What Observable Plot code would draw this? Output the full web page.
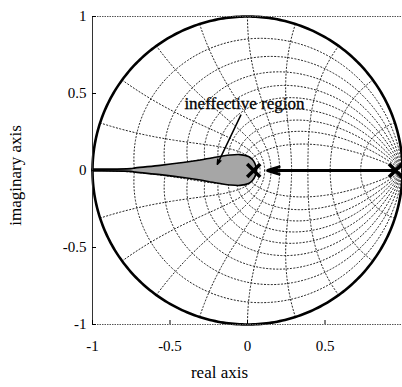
<!DOCTYPE html>
<html><head><meta charset="utf-8">
<script src="https://cdn.jsdelivr.net/npm/d3@7"></script>
<script src="https://cdn.jsdelivr.net/npm/@observablehq/plot@0.6"></script>
<style>body{margin:0;background:#fff}</style>
</head><body><div id="chart"></div>
<script>
// axis settings
const xDomain = [-1, 1];
const yDomain = [-1, 1];
const xTicks = [-1, -0.5, 0, 0.5];
const yTicks = [-1, -0.5, 0, 0.5, 1];

// z-plane grid (zgrid) parameters
const dampingRatios = [0.1, 0.2, 0.3, 0.4, 0.5, 0.6, 0.7, 0.8, 0.9];
const naturalFreqsOverPi = [0.1, 0.2, 0.3, 0.4, 0.5, 0.6, 0.7, 0.8, 0.9, 1.0];
const circleRadius = 1;

// ineffective region outline: x and half-width
const regionX =         [-1,    -0.75, -0.72, -0.56, -0.40, -0.30, -0.22, -0.11, -0.045, 0.01,  0.035, 0.05,  0.058, 0.062];
const regionHalfWidth = [0.006, 0.009, 0.014, 0.03,  0.05,  0.065, 0.08,  0.097, 0.1,    0.088, 0.068, 0.045, 0.02,  0];

// poles and their movement
const poleX = [0.04, 0.955];
const poleY = [0, 0];
const moveFrom = [0.955, 0];
const moveTo = [0.13, 0];

// annotation
const annotationText = "ineffective region";
const annotationPos = [-0.02, 0.435];
const annotationFrom = [-0.043, 0.36];
const annotationTo = [-0.195, 0.04];

const xLabel = "real axis";
const yLabel = "imaginary axis";

// build grid curves
const grid = [];
for (const zeta of dampingRatios) {
  for (const s of [1, -1]) {
    for (let i = 0; i <= 240; i++) {
      const th = Math.PI * i / 240;
      const r = Math.exp(-zeta * th / Math.sqrt(1 - zeta * zeta));
      grid.push({id: `z${zeta}_${s}`, x: r * Math.cos(th), y: s * r * Math.sin(th)});
    }
  }
}
for (const k of naturalFreqsOverPi) {
  const wn = k * Math.PI;
  for (const s of [1, -1]) {
    for (let i = 0; i <= 120; i++) {
      const phi = Math.PI / 2 + (Math.PI / 2) * i / 120;
      const re = wn * Math.cos(phi), im = wn * Math.sin(phi);
      const r = Math.exp(re);
      grid.push({id: `w${k}_${s}`, x: r * Math.cos(im), y: s * r * Math.sin(im)});
    }
  }
}
const circle = d3.range(0, 361).map(a => ({x: circleRadius * Math.cos(a * Math.PI / 180), y: circleRadius * Math.sin(a * Math.PI / 180)}));
const region = regionX.map((x, i) => ({x, lo: -regionHalfWidth[i], hi: regionHalfWidth[i]}));
const poles = poleX.map((x, i) => ({x, y: poleY[i]}));

const chart = Plot.plot({
  width: 402,
  height: 387,
  marginLeft: 92,
  marginRight: 0,
  marginTop: 16,
  marginBottom: 63,
  style: {fontFamily: "'Liberation Serif', serif", fontSize: "14px", background: "#fff", color: "#000"},
  x: {domain: xDomain},
  y: {domain: yDomain},
  marks: [
    Plot.line(grid, {x: "x", y: "y", z: "id", stroke: "#222", strokeWidth: 1, strokeDasharray: "1.2,2.2"}),
    Plot.areaY(region, {x: "x", y1: "lo", y2: "hi", fill: "#a6a6a6", stroke: "#000", strokeWidth: 1.6, curve: "catmull-rom"}),
    Plot.line(circle, {x: "x", y: "y", stroke: "#000", strokeWidth: 2.6}),
    Plot.arrow([{}], {x1: moveFrom[0], y1: moveFrom[1], x2: moveTo[0], y2: moveTo[1], stroke: "#000", strokeWidth: 3, headLength: 6, headAngle: 35}),
    Plot.dot(poles, {x: "x", y: "y", symbol: "times", r: 6, stroke: "#000", strokeWidth: 3.5}),
    Plot.arrow([{}], {x1: annotationFrom[0], y1: annotationFrom[1], x2: annotationTo[0], y2: annotationTo[1], stroke: "#000", strokeWidth: 1.5, headLength: 5, headAngle: 40}),
    Plot.text([annotationText], {x: annotationPos[0], y: annotationPos[1], text: d => d, fontSize: 17, fill: "#000", textAnchor: "middle", stroke: "#000", strokeWidth: 0.3}),
    Plot.ruleY(yDomain, {stroke: "#555", strokeWidth: 1, strokeDasharray: "1.5,1"}),
    Plot.ruleX([xDomain[0]], {stroke: "#333", strokeWidth: 1}),
    Plot.axisX({ticks: xTicks, tickSize: -4, tickPadding: 20, label: null, tickFormat: d => String(d), fontSize: 15}),
    Plot.axisY({ticks: yTicks, tickSize: -4, tickPadding: 10, label: null, tickFormat: d => String(d), fontSize: 15}),
    Plot.text([xLabel], {frameAnchor: "bottom", text: d => d, dx: -28, dy: 53, fontSize: 17, fill: "#000", textAnchor: "middle"}),
    Plot.text([yLabel], {frameAnchor: "left", text: d => d, dx: -77, dy: 5, rotate: -90, fontSize: 17, fill: "#000", textAnchor: "middle"})
  ]
});
document.getElementById("chart").append(chart);
</script>
</body></html>
